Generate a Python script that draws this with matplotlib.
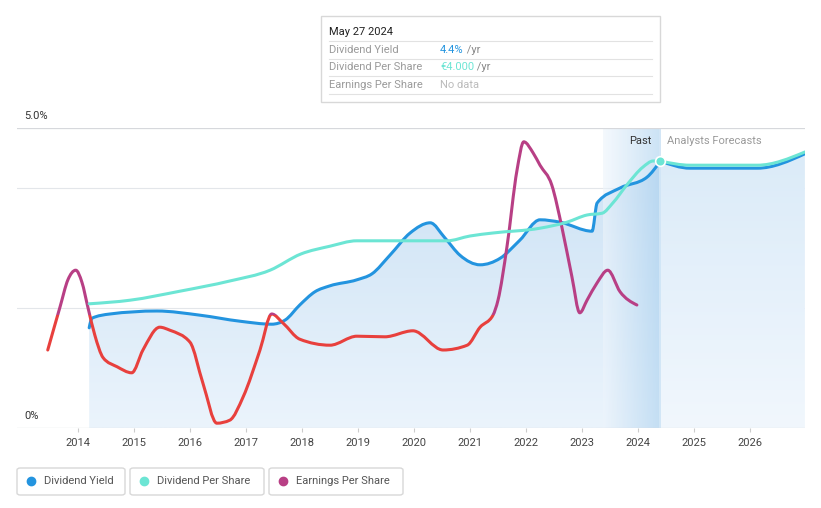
import numpy as np
import matplotlib
matplotlib.use("Agg")
import matplotlib.pyplot as plt
from matplotlib.colors import LinearSegmentedColormap
from matplotlib.patches import Rectangle, PathPatch, FancyBboxPatch
from matplotlib.lines import Line2D
from matplotlib.path import Path

plt.rcParams['font.family'] = ['Roboto', 'DejaVu Sans']

# dividend yield (%), past
dy_years = [2014.20, 2014.25, 2014.57, 2015.41, 2016.18, 2016.89, 2017.46, 2017.70, 2017.96,
            2018.23, 2018.50, 2018.98, 2019.25, 2019.57, 2019.93, 2020.29, 2020.55, 2020.82,
            2021.18, 2021.54, 2021.89, 2022.25, 2022.61, 2023.18, 2023.27, 2023.68, 2024.16, 2024.40]
dy_vals = [1.67, 1.83, 1.90, 1.95, 1.88, 1.78, 1.73, 1.80, 2.05,
           2.27, 2.37, 2.47, 2.57, 2.88, 3.25, 3.42, 3.17, 2.88,
           2.72, 2.83, 3.13, 3.47, 3.43, 3.28, 3.75, 4.00, 4.18, 4.45]
# dividend yield, analyst forecast
dyf_years = [2024.40, 2024.93, 2026.13, 2026.98]
dyf_vals = [4.45, 4.33, 4.33, 4.57]

# dividend per share (chart units), past + forecast
dps_years = [2014.20, 2014.93, 2015.82, 2016.71, 2017.43, 2017.98, 2018.50, 2018.98, 2019.39,
             2020.00, 2020.59, 2021.00, 2021.41, 2022.25, 2022.73, 2023.09, 2023.36, 2023.55,
             2023.80, 2024.09, 2024.27, 2024.40]
dps_vals = [2.07, 2.13, 2.28, 2.45, 2.63, 2.90, 3.03, 3.12, 3.12,
            3.12, 3.12, 3.20, 3.25, 3.33, 3.43, 3.55, 3.58, 3.75,
            4.05, 4.35, 4.45, 4.45]
dpsf_years = [2024.40, 2024.93, 2026.13, 2026.98]
dpsf_vals = [4.45, 4.38, 4.38, 4.60]

# earnings per share (chart units)
eps_years = [2013.46, 2013.68, 2013.82, 2013.96, 2014.07, 2014.18, 2014.30, 2014.45, 2014.70,
             2014.96, 2015.16, 2015.46, 2015.64, 2016.00, 2016.23, 2016.48, 2016.71, 2016.95,
             2017.25, 2017.46, 2017.66, 2017.96, 2018.50, 2018.98, 2019.48, 2019.98, 2020.52,
             2020.95, 2021.18, 2021.41, 2021.50, 2021.66, 2021.84, 2021.96, 2022.13, 2022.25,
             2022.46, 2022.64, 2022.82, 2022.96, 2023.09, 2023.27, 2023.46, 2023.68, 2023.98]
eps_vals = [1.30, 2.02, 2.47, 2.63, 2.43, 2.00, 1.55, 1.17, 1.02,
            0.92, 1.30, 1.68, 1.63, 1.43, 0.75, 0.08, 0.13, 0.52,
            1.30, 1.90, 1.75, 1.48, 1.38, 1.53, 1.52, 1.62, 1.30,
            1.38, 1.68, 1.88, 2.13, 3.02, 4.30, 4.77, 4.58, 4.38,
            4.05, 3.35, 2.52, 1.92, 2.13, 2.42, 2.63, 2.27, 2.05]

year_ticks = list(range(2014, 2027))

BLUE = "#2394df"
TEAL = "#6ce5d4"
MAGENTA = "#b83f85"
RED = "#e8403d"


def monotone_path(xs, ys):
    # bezier path through the points, monotone in x (like d3 curveMonotoneX)
    x = np.asarray(xs, float)
    y = np.asarray(ys, float)
    n = len(x)
    h = np.diff(x)
    s = np.diff(y) / h
    t = np.zeros(n)
    for i in range(1, n - 1):
        s0, s1 = s[i - 1], s[i]
        p = (s0 * h[i] + s1 * h[i - 1]) / (h[i - 1] + h[i])
        t[i] = (np.sign(s0) + np.sign(s1)) * min(abs(s0), abs(s1), 0.5 * abs(p))
    t[0] = (3 * s[0] - t[1]) / 2 if n > 2 else s[0]
    t[-1] = (3 * s[-1] - t[-2]) / 2 if n > 2 else s[-1]
    verts = [(x[0], y[0])]
    codes = [Path.MOVETO]
    for i in range(n - 1):
        dx = h[i] / 3
        verts += [(x[i] + dx, y[i] + dx * t[i]), (x[i + 1] - dx, y[i + 1] - dx * t[i + 1]),
                  (x[i + 1], y[i + 1])]
        codes += [Path.CURVE4] * 3
    return verts, codes


def draw_curve(ax, xs, ys, color, z, lw=2.2):
    verts, codes = monotone_path(xs, ys)
    p = PathPatch(Path(verts, codes), facecolor="none", edgecolor=color, lw=lw,
                  zorder=z, capstyle="round", joinstyle="round")
    ax.add_patch(p)
    return p


def gradient_fill(ax, xs, ys, c_bottom, c_top, z):
    verts, codes = monotone_path(xs, ys)
    verts = verts + [(xs[-1], 0), (xs[0], 0), (xs[0], ys[0])]
    codes = codes + [Path.LINETO, Path.LINETO, Path.CLOSEPOLY]
    clip = PathPatch(Path(verts, codes), transform=ax.transData, facecolor="none",
                     edgecolor="none")
    ax.add_patch(clip)
    grad = np.linspace(0, 1, 256).reshape(-1, 1)
    cm = LinearSegmentedColormap.from_list("f", [c_bottom, c_top])
    im = ax.imshow(grad, extent=[xs[0], xs[-1], 0, 5], aspect="auto", cmap=cm,
                   origin="lower", zorder=z)
    im.set_clip_path(clip)


fig = plt.figure(figsize=(8.21, 5.08), dpi=100)
ax = fig.add_axes([17 / 821, 80 / 508, 788 / 821, 300 / 508])
x0, x1 = 2012.911, 2026.982

# fills under dividend yield
gradient_fill(ax, dy_years, dy_vals, "#ebf4fc", "#c9e0f4", 1)
gradient_fill(ax, dyf_years, dyf_vals, "#f1f7fd", "#d9eaf8", 1)

# past band (last year before forecast)
hgrad = np.linspace(0, 1, 256).reshape(1, -1)
cm_band = LinearSegmentedColormap.from_list("b", ["#eef5fc", "#a9d0ef"])
ax.imshow(hgrad, extent=[2023.375, 2024.40, 0, 5], aspect="auto", cmap=cm_band,
          alpha=0.6, zorder=1.5)
ax.axvline(2024.40, color="#d5e8f7", lw=1.2, zorder=1.6)

# grid
for gy in [2, 4]:
    ax.axhline(gy, color="#e3e6ea", lw=0.8, zorder=0.5)
ax.axhline(5, color="#d6d8dc", lw=0.9, zorder=2)
ax.axhline(0, color="#d6d8dc", lw=0.9, zorder=2)

# lines
draw_curve(ax, dy_years, dy_vals, BLUE, 3)
draw_curve(ax, dyf_years, dyf_vals, BLUE, 3)
draw_curve(ax, dps_years, dps_vals, TEAL, 3.2)
draw_curve(ax, dpsf_years, dpsf_vals, TEAL, 3.2)

thr = 1.88
e_hi = draw_curve(ax, eps_years, eps_vals, MAGENTA, 3.1)
e_lo = draw_curve(ax, eps_years, eps_vals, RED, 3.1)
e_hi.set_clip_path(Rectangle((x0, thr), x1 - x0, 10, transform=ax.transData))
e_lo.set_clip_path(Rectangle((x0, -10), x1 - x0, 10 + thr, transform=ax.transData))

ax.plot([2024.40], [4.45], "o", ms=7, color=TEAL, mec="white", mew=1.2, zorder=4)

ax.text(2024.24, 4.78, "Past", ha="right", va="center", fontsize=8, color="#333333", zorder=5)
ax.text(2024.52, 4.78, "Analysts Forecasts", ha="left", va="center", fontsize=8,
        color="#9a9a9a", zorder=5)

ax.set_xlim(x0, x1)
ax.set_ylim(0, 5)
for s in ax.spines.values():
    s.set_visible(False)
ax.set_yticks([])
ax.set_xticks(year_ticks)
ax.set_xticklabels([str(y) for y in year_ticks], fontsize=8, color="#444444")
ax.tick_params(axis="x", length=3, color="#cccccc", pad=4)

fig.text(24 / 821, 1 - 116 / 508, "5.0%", fontsize=8, color="#333333", va="center")
fig.text(24 / 821, 1 - 416 / 508, "0%", fontsize=8, color="#333333", va="center")


# tooltip
def fx_(px):
    return px / 821


def fy_(py):
    return 1 - py / 508


fig.add_artist(Rectangle((fx_(321), fy_(102)), 339 / 821, 86 / 508, transform=fig.transFigure,
                         facecolor="white", edgecolor="#d8d8d8", lw=1, zorder=10))
fig.text(fx_(329), fy_(32), "May 27 2024", fontsize=8, color="#222222", va="center", zorder=11)
rows = [("Dividend Yield", "4.4%", BLUE, " /yr"),
        ("Dividend Per Share", "€4.000", TEAL, " /yr"),
        ("Earnings Per Share", "No data", "#bbbbbb", "")]
for i, (lab, val, col, suf) in enumerate(rows):
    yy = 50 + i * 17.5
    fig.add_artist(Line2D([fx_(329), fx_(652)], [fy_(yy - 9), fy_(yy - 9)],
                          transform=fig.transFigure, color="#e2e2e2", lw=0.8, zorder=11))
    fig.text(fx_(329), fy_(yy), lab, fontsize=8, color="#9a9a9a", va="center", zorder=11)
    t = fig.text(fx_(440), fy_(yy), val, fontsize=8, color=col, va="center", zorder=11)
    if suf:
        fig.canvas.draw()
        bb = t.get_window_extent()
        fig.text(bb.x1 / fig.bbox.width, fy_(yy), suf, fontsize=8, color="#888888",
                 va="center", zorder=11)
fig.add_artist(Line2D([fx_(329), fx_(652)], [fy_(94), fy_(94)],
                      transform=fig.transFigure, color="#e2e2e2", lw=0.8, zorder=11))

# legend
legend_items = [("Dividend Yield", BLUE, 17, 125),
                ("Dividend Per Share", TEAL, 130, 264),
                ("Earnings Per Share", MAGENTA, 269, 403)]
for lab, col, xa, xb in legend_items:
    fig.add_artist(FancyBboxPatch((fx_(xa), fy_(495)), (xb - xa) / 821, 27 / 508,
                                  boxstyle="round,pad=0,rounding_size=0.004",
                                  transform=fig.transFigure, facecolor="white",
                                  edgecolor="#d8d8d8", lw=1))
    fig.add_artist(Line2D([fx_(xa + 14)], [fy_(481)], marker="o", ms=6, color=col,
                          transform=fig.transFigure))
    fig.text(fx_(xa + 27), fy_(481), lab, fontsize=8, color="#555555", va="center")

fig.savefig("out.png", dpi=100)
